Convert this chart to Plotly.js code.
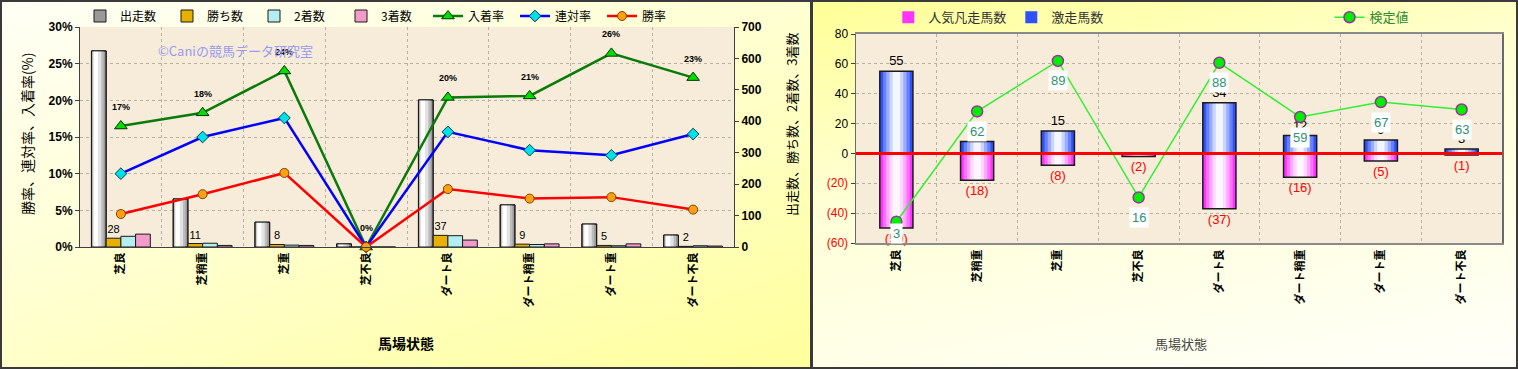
<!DOCTYPE html>
<html><head><meta charset="utf-8">
<script src="https://cdn.plot.ly/plotly-3.0.1.min.js"></script>
<style>
html,body{margin:0;padding:0;width:1518px;height:369px;overflow:hidden;background:#fff;}
#left{position:absolute;left:0;top:0;width:812px;height:369px;background:linear-gradient(160deg,#fffff6 0%,#ffffd2 45%,#ffff9c 100%);}
#right{position:absolute;left:812px;top:0;width:706px;height:369px;background:linear-gradient(168deg,#ffff96 0%,#ffffd6 40%,#fffffa 100%);}
.frame{position:absolute;box-sizing:border-box;border:2px solid #3a3a3a;pointer-events:none;}
</style></head><body>
<div id="left"></div><div id="right"></div>
<div class="frame" style="left:0;top:0;width:812px;height:369px"></div>
<div class="frame" style="left:811px;top:0;width:707px;height:369px"></div>
<script>
// ---- data ----
const categories = ['芝良','芝稍重','芝重','芝不良','ダート良','ダート稍重','ダート重','ダート不良'];
const starts  = [624, 153, 79, 10, 468, 134, 73, 38];
const wins    = [28, 11, 8, 0, 37, 9, 5, 2];
const seconds = [34, 12, 6, 0, 36, 8, 4, 4];
const thirds  = [41, 5, 5, 0, 22, 10, 10, 3];
const placeRate  = [16.5, 18.3, 24.0, 0, 20.4, 20.6, 26.4, 23.1];
const rentaiRate = [10.0, 15.0, 17.6, 0, 15.7, 13.2, 12.5, 15.4];
const winRate    = [4.5, 7.2, 10.1, 0, 7.9, 6.6, 6.8, 5.1];

const gekisou = [55, 8, 15, 0, 34, 12, 9, 3];
const bonsou  = [50, 18, 8, 2, 37, 16, 5, 1];
const kentei  = [3, 62, 89, 16, 88, 59, 67, 63];
const rightTicks = [80, 60, 40, 20, 0, -20, -40, -60];

const JP = '"Noto Sans CJK JP", sans-serif';
const NUM = '"Liberation Sans", Arial, sans-serif';
const GRID = '#b9b2a2';
const PLOTBG = '#f6ecd9';

// ---- left chart ----
function layer(y, off, w, color, extra) {
  return Object.assign({type:'bar', x:categories, y:y, offset:off, width:w, yaxis:'y',
    marker:{color:color, line:{width:0}}, showlegend:false, hoverinfo:'skip'}, extra || {});
}
const outline = {color:'#1a1a1a', width:1};
const L = [];
L.push(layer(starts, -0.36, 0.18, '#9a9a9a', {name:'出走数', showlegend:true, marker:{color:'#9a9a9a', line:outline}}));
L.push(layer(starts, -0.35, 0.14, '#bdbdbd'));
L.push(layer(starts, -0.34, 0.10, '#e2e2e2'));
L.push(layer(starts, -0.33, 0.05, '#ffffff'));
L.push(layer(starts, -0.36, 0.18, 'rgba(0,0,0,0)', {marker:{color:'rgba(0,0,0,0)', line:outline}}));
L.push(layer(wins, -0.18, 0.18, '#e8b000', {name:'勝ち数', showlegend:true, marker:{color:'#e8b000', line:outline},
  text: wins.map(v => v > 0 ? String(v) : ''), textposition:'outside', cliponaxis:false,
  textfont:{family:NUM, size:11, color:'#000'}}));
L.push(layer(seconds, 0, 0.18, '#b4eef0', {name:'2着数', showlegend:true, marker:{color:'#b4eef0', line:outline}}));
L.push(layer(thirds, 0.18, 0.18, '#f29ccc', {name:'3着数', showlegend:true, marker:{color:'#f29ccc', line:outline}}));
L.push({type:'scatter', mode:'lines+markers', x:categories, y:placeRate, yaxis:'y2', name:'入着率',
  line:{color:'#0a7a0a', width:2.5}, marker:{symbol:'triangle-up', size:11, color:'#00dd00', line:{color:'#003300', width:1}}, cliponaxis:false});
L.push({type:'scatter', mode:'lines+markers', x:categories, y:rentaiRate, yaxis:'y2', name:'連対率',
  line:{color:'#0000ff', width:2.5}, marker:{symbol:'diamond', size:9, color:'#00e0e8', line:{color:'#004050', width:1}}, cliponaxis:false});
L.push({type:'scatter', mode:'lines+markers', x:categories, y:winRate, yaxis:'y2', name:'勝率',
  line:{color:'#ff0000', width:2.5}, marker:{symbol:'circle', size:9, color:'#ffa010', line:{color:'#804000', width:1}}, cliponaxis:false});

const leftAnn = placeRate.map((v, i) => ({x:categories[i], y:v, xref:'x', yref:'y2', yshift:19, showarrow:false,
  text: Math.round(v) + '%', font:{family:NUM, size:9, color:'#000', weight:'bold'}}));
leftAnn.push({xref:'paper', yref:'paper', x:0.2385, y:0.895, xanchor:'center', yanchor:'middle', showarrow:false,
  text:'©Caniの競馬データ研究室', font:{family:JP, size:13, color:'#9a9af0'}});
leftAnn.push({xref:'paper', yref:'paper', x:-0.081, y:0.514, xanchor:'center', yanchor:'middle', showarrow:false,
  textangle:-90, text:'勝率、連対率、入着率(%)', font:{family:JP, size:14, color:'#000'}});
leftAnn.push({xref:'paper', yref:'paper', x:1.0887, y:0.555, xanchor:'center', yanchor:'middle', showarrow:false,
  textangle:-90, text:'出走数、勝ち数、2着数、3着数', font:{family:JP, size:13, color:'#000'}});
leftAnn.push({xref:'paper', yref:'paper', x:0.4985, y:-0.436, xanchor:'center', yanchor:'middle', showarrow:false,
  text:'馬場状態', font:{family:JP, size:14, color:'#000', weight:'bold'}});

const leftLayout = {
  width:812, height:369, margin:{l:80, r:78, t:27, b:122, pad:0, autoexpand:false},
  paper_bgcolor:'rgba(0,0,0,0)', plot_bgcolor:PLOTBG, barmode:'overlay', hovermode:false,
  font:{family:JP, color:'#000'},
  xaxis:{type:'category', categoryorder:'array', categoryarray:categories, range:[-0.5, 7.5], tickangle:-90,
    tickson:'boundaries', showgrid:true, gridcolor:GRID, griddash:'dot', gridwidth:1, ticks:'',
    showline:true, linecolor:'#404040', linewidth:1, tickfont:{family:JP, size:11, color:'#000', weight:'bold'}},
  yaxis:{side:'right', range:[0, 700], dtick:100, showgrid:false, zeroline:false, showline:true, linecolor:'#404040',
    ticks:'outside', ticklen:4, tickcolor:'#404040', tickfont:{family:NUM, size:12, color:'#000', weight:'bold'}},
  yaxis2:{overlaying:'y', side:'left', range:[0, 30], dtick:5, ticksuffix:'%', showgrid:true, gridcolor:GRID, griddash:'dot',
    zeroline:false, showline:true, linecolor:'#404040', ticks:'outside', ticklen:4, tickcolor:'#404040',
    tickfont:{family:NUM, size:12, color:'#000', weight:'bold'}},
  legend:{orientation:'h', x:0.0, xanchor:'left', y:1.05, yanchor:'middle', entrywidth:42, entrywidthmode:'pixels',
    bgcolor:'rgba(0,0,0,0)', font:{family:JP, size:12, color:'#000'}, traceorder:'normal'},
  annotations:leftAnn
};
Plotly.newPlot('left', L, leftLayout, {displayModeBar:false, staticPlot:true});

// ---- right chart ----
function rlayer(y, w, color, extra) {
  return Object.assign({type:'bar', x:categories, y:y, width:w, yaxis:'y',
    marker:{color:color, line:{width:0}}, showlegend:false, hoverinfo:'skip'}, extra || {});
}
const neg = bonsou.map(v => -v);
const rOutline = {color:'#1a1a1a', width:1.5};
const R = [];
R.push(rlayer(neg, 0.41, '#ff33ff', {name:'人気凡走馬数', showlegend:true}));
R.push(rlayer(neg, 0.33, '#ff70ff'));
R.push(rlayer(neg, 0.25, '#ffa8ff'));
R.push(rlayer(neg, 0.17, '#ffd8ff'));
R.push(rlayer(neg, 0.09, '#fff6ff'));
R.push(rlayer(neg, 0.41, 'rgba(0,0,0,0)', {marker:{color:'rgba(0,0,0,0)', line:rOutline},
  text: bonsou.map(v => v > 0 ? '(' + v + ')' : ''), textposition:'outside', cliponaxis:false,
  textfont:{family:NUM, size:13, color:'#ff0000'}}));
R.push(rlayer(gekisou, 0.41, '#3050ff', {name:'激走馬数', showlegend:true}));
R.push(rlayer(gekisou, 0.33, '#6680ff'));
R.push(rlayer(gekisou, 0.25, '#9aacff'));
R.push(rlayer(gekisou, 0.17, '#ccd5ff'));
R.push(rlayer(gekisou, 0.09, '#f4f6ff'));
R.push(rlayer(gekisou, 0.41, 'rgba(0,0,0,0)', {marker:{color:'rgba(0,0,0,0)', line:rOutline},
  text: gekisou.map(v => v > 0 ? String(v) : ''), textposition:'outside', cliponaxis:false,
  textfont:{family:NUM, size:13, color:'#000'}}));
R.push({type:'scatter', mode:'lines+markers', x:categories, y:kentei, yaxis:'y2', name:'検定値', legend:'legend2',
  line:{color:'#33ee33', width:1.5}, marker:{symbol:'circle', size:11, color:'#00ee00', line:{color:'#993399', width:1.5}},
  cliponaxis:false});

const rightAnn = kentei.map((v, i) => ({x:categories[i], y:v, xref:'x', yref:'y2', yshift: v < 10 ? -12 : -20,
  showarrow:false, text:String(v), bgcolor:'#ffffff', borderpad:2,
  font:{family:NUM, size:13, color:'#2f9170'}}));
rightAnn.push({xref:'paper', yref:'paper', x:0.503, y:-0.483, xanchor:'center', yanchor:'middle', showarrow:false,
  text:'馬場状態', font:{family:JP, size:13, color:'#444'}});

const rightLayout = {
  width:706, height:369, margin:{l:44, r:16, t:34, b:126, pad:0, autoexpand:false},
  paper_bgcolor:'rgba(0,0,0,0)', plot_bgcolor:PLOTBG, barmode:'overlay', hovermode:false,
  font:{family:JP, color:'#000'},
  xaxis:{type:'category', categoryorder:'array', categoryarray:categories, range:[-0.5, 7.5], tickangle:-90,
    tickson:'boundaries', showgrid:true, gridcolor:GRID, griddash:'dot', ticks:'',
    showline:true, mirror:true, linecolor:'#8a8a8a', linewidth:2, tickfont:{family:JP, size:11, color:'#000', weight:'bold'}},
  yaxis:{range:[-60, 80], tickvals:rightTicks,
    ticktext:rightTicks.map(v => v < 0 ? '<span style="color:#ff0000">(' + (-v) + ')</span>' : String(v)),
    showgrid:true, gridcolor:GRID, griddash:'dot', zeroline:false, showline:true, mirror:true, linecolor:'#6a6a6a', linewidth:1.5,
    ticks:'outside', ticklen:4, tickcolor:'#404040', tickfont:{family:NUM, size:12, color:'#000'}},
  yaxis2:{overlaying:'y', range:[-8.4, 103.4], visible:false},
  shapes:[{type:'line', xref:'paper', x0:0, x1:1, yref:'y', y0:0, y1:0, line:{color:'#ff0000', width:3}, layer:'above'}],
  legend:{orientation:'h', x:0.05, xanchor:'left', y:1.08, yanchor:'middle', bgcolor:'rgba(0,0,0,0)',
    font:{family:JP, size:13, color:'#333'}, traceorder:'normal'},
  legend2:{orientation:'h', x:0.733, xanchor:'left', y:1.08, yanchor:'middle', bgcolor:'rgba(0,0,0,0)',
    font:{family:JP, size:13, color:'#2e8b2e'}},
  annotations:rightAnn
};
Plotly.newPlot('right', R, rightLayout, {displayModeBar:false, staticPlot:true});
</script></body></html>
